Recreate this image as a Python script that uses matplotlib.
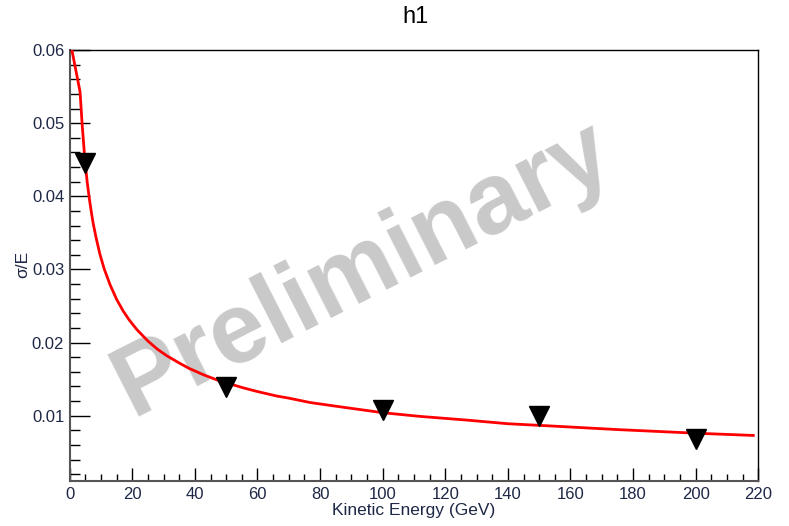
import matplotlib
matplotlib.use("Agg")
import matplotlib.pyplot as plt
from matplotlib.ticker import MultipleLocator, FixedLocator

plt.rcParams['font.family'] = ['Liberation Sans', 'DejaVu Sans']

# Data points (measured)
energy = [5, 50, 100, 150, 200]
sigma_over_e = [0.0445, 0.0139, 0.0108, 0.0099, 0.0068]

# Fit curve
fit_energy = [0.7, 3.3, 4.0, 4.9, 5.6, 6.3, 7.0, 7.5, 8.5, 9.7, 11.0, 12.9, 15.0,
              17.1, 19.0, 21.4, 25.0, 28.0, 31.0, 35.0, 38.0, 42.7, 47.0, 50.0,
              55.5, 60.0, 66.0, 70.0, 76.8, 85.0, 90.0, 100.2, 112.0, 126.8,
              140.0, 153.5, 175.0, 200.3, 218.4]
fit_sigma = [0.0600, 0.0543, 0.0497, 0.0447, 0.0419, 0.0396, 0.0376, 0.0363,
             0.0342, 0.0320, 0.0301, 0.0279, 0.0259, 0.0243, 0.0231, 0.0218,
             0.0202, 0.0191, 0.0182, 0.0172, 0.0165, 0.0156, 0.0149, 0.0145,
             0.0138, 0.0133, 0.0127, 0.0124, 0.0118, 0.0113, 0.0110, 0.0104,
             0.0099, 0.0094, 0.0089, 0.0086, 0.0081, 0.0076, 0.0073]

x_ticks = [0, 20, 40, 60, 80, 100, 120, 140, 160, 180, 200, 220]
y_ticks = [0.01, 0.02, 0.03, 0.04, 0.05, 0.06]
y_tick_labels = ["0.01", "0.02", "0.03", "0.04", "0.05", "0.06"]

W, H = 789, 526
fig = plt.figure(figsize=(W / 100, H / 100), dpi=100)
ax = fig.add_axes([69.7 / W, 1 - 481 / H, (758.3 - 69.7) / W, (481 - 50) / H])

# Watermark (behind data)
ax.text(0.425, 0.49, "Preliminary", transform=ax.transAxes, rotation=27,
        fontsize=72, fontweight='bold', color='#c9c9c9',
        ha='center', va='center', rotation_mode='anchor', zorder=1)

ax.plot(fit_energy, fit_sigma, color='#ff0000', lw=2.0, zorder=3)
ax.plot(energy, sigma_over_e, linestyle='none', marker='v', markersize=14,
        color='black', zorder=4)

ax.set_xlim(0, 220)
ax.set_ylim(0.00107, 0.06)

ax.xaxis.set_major_locator(FixedLocator(x_ticks))
ax.xaxis.set_minor_locator(MultipleLocator(5))
ax.yaxis.set_major_locator(FixedLocator(y_ticks))
ax.set_yticklabels(y_tick_labels)
ax.yaxis.set_minor_locator(MultipleLocator(0.002))

label_color = '#1e2846'
ax.tick_params(axis='y', which='major', direction='in', length=14.4, width=1.0,
               labelsize=12, pad=4, colors='black', labelcolor=label_color)
ax.tick_params(axis='y', which='minor', direction='in', length=7.2, width=1.0,
               colors='black')
ax.tick_params(axis='x', which='major', direction='in', length=9.4, width=1.0,
               labelsize=12, pad=4, colors='black', labelcolor=label_color)
ax.tick_params(axis='x', which='minor', direction='in', length=5, width=1.0,
               colors='black')

for s in ['left', 'bottom']:
    ax.spines[s].set_color('#555555')
    ax.spines[s].set_linewidth(1.5)
for s in ['top', 'right']:
    ax.spines[s].set_color('black')
    ax.spines[s].set_linewidth(1.0)

fig.text(22.5 / W, 1 - 264 / H, "σ/E", rotation=90, fontsize=12.5,
         color=label_color, ha='center', va='center')
fig.text(413.5 / W, 1 - 510 / H, "Kinetic Energy (GeV)", fontsize=12.5,
         color=label_color, ha='center', va='center')
fig.text(416 / W, 1 - 17 / H, "h1", fontsize=17, color='black',
         ha='center', va='center')

fig.savefig("out.png", dpi=100, facecolor='white')
